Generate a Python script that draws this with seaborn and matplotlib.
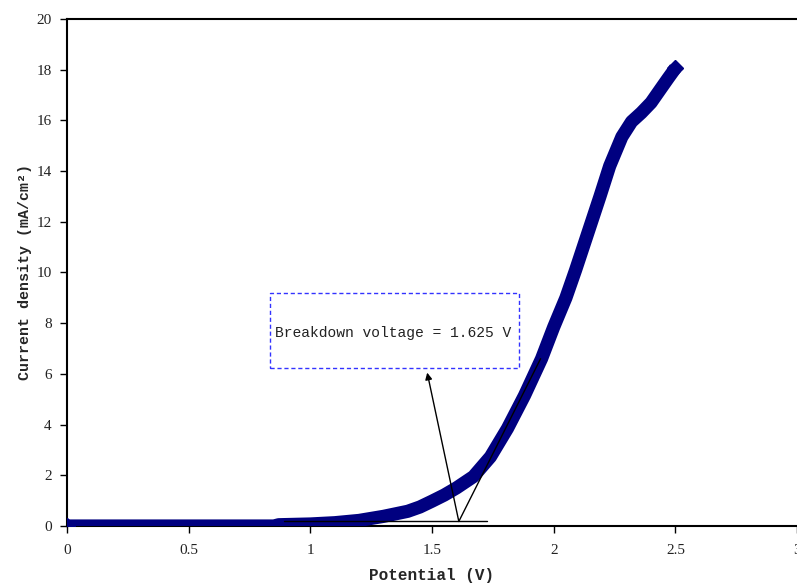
import matplotlib
matplotlib.use("Agg")
import matplotlib.pyplot as plt
import seaborn as sns
import pandas as pd

# Data
potential = [0.0, 0.3, 0.6, 0.85, 0.87, 1.0, 1.1, 1.2, 1.3, 1.4, 1.45, 1.5, 1.55, 1.6,
             1.67, 1.74, 1.81, 1.88, 1.95, 2.0, 2.05, 2.09, 2.14, 2.19, 2.23, 2.28,
             2.32, 2.36, 2.4, 2.44, 2.47, 2.5]
current = [0.0, 0.0, 0.0, 0.0, 0.05, 0.08, 0.13, 0.22, 0.38, 0.58, 0.75, 0.98, 1.22, 1.5,
           1.95, 2.73, 3.85, 5.15, 6.6, 7.85, 9.0, 10.1, 11.55, 13.0, 14.2, 15.35,
           15.95, 16.3, 16.7, 17.25, 17.66, 18.06]
x_ticks = [0, 0.5, 1, 1.5, 2, 2.5, 3]
x_tick_labels = ["0", "0.5", "1", "1.5", "2", "2.5", "3"]
y_ticks = [0, 2, 4, 6, 8, 10, 12, 14, 16, 18, 20]
annot_text = "Breakdown voltage = 1.625 V"
baseline_x = [0.89, 1.727]
baseline_y = [0.2, 0.2]
tangent_x = [1.61, 1.946]
tangent_y = [0.18, 6.6]
arrow_tail = (1.61, 0.18)
arrow_head = (1.48, 6.05)

df = pd.DataFrame({"Potential": potential, "Current": current})

sns.set_style("white")
fig = plt.figure(figsize=(7.97, 5.84), dpi=100)
ax = fig.add_axes([0.0841, 0.0993, 0.916, 0.8682])

navy = "#000080"
sns.lineplot(data=df, x="Potential", y="Current", ax=ax, color=navy, lw=9.5,
             solid_capstyle="butt", solid_joinstyle="round", zorder=3)
ax.plot([potential[0], potential[-1]], [current[0], current[-1]], ls="none",
        marker="D", ms=8, color=navy, zorder=4)

# tangent construction
ax.plot(baseline_x, baseline_y, color="black", lw=1, zorder=5)
ax.plot(tangent_x, tangent_y, color="black", lw=1, zorder=5)
ax.annotate("", xy=arrow_head, xytext=arrow_tail,
            arrowprops=dict(arrowstyle="-|>", color="black", lw=1,
                            mutation_scale=10, shrinkA=0, shrinkB=0), zorder=6)

# text box
ax.add_patch(plt.Rectangle((0.835, 6.23), 1.021, 2.96, fill=False,
                           edgecolor="#3333ff", ls=(0, (3, 2)), lw=1, zorder=6))
ax.text(0.855, 7.6, annot_text, fontsize=10.5, family="Liberation Mono",
        va="center", ha="left", color="#222222", zorder=7)

ax.set_xlim(0, 3)
ax.set_ylim(0, 20)
ax.set_xticks(x_ticks)
ax.set_xticklabels(x_tick_labels)
ax.set_yticks(y_ticks)
for lab in ax.get_xticklabels() + ax.get_yticklabels():
    lab.set_family("Liberation Serif")
    lab.set_fontsize(11)
    lab.set_color("#222222")
ax.tick_params(axis="both", direction="out", length=5, width=1, color="black",
               bottom=True, left=True, pad=8)
ax.tick_params(axis="y", pad=6)

for s in ["left", "top", "bottom"]:
    ax.spines[s].set_color("black")
    ax.spines[s].set_linewidth(1.5)
ax.spines["right"].set_visible(False)

ax.set_xlabel("Potential (V)", family="Liberation Mono", fontweight="bold",
              fontsize=11.5, labelpad=8)
ax.set_ylabel("Current density (mA/cm²)", family="Liberation Mono",
              fontweight="bold", fontsize=10.8, labelpad=3)

fig.savefig("out.png", dpi=100)
